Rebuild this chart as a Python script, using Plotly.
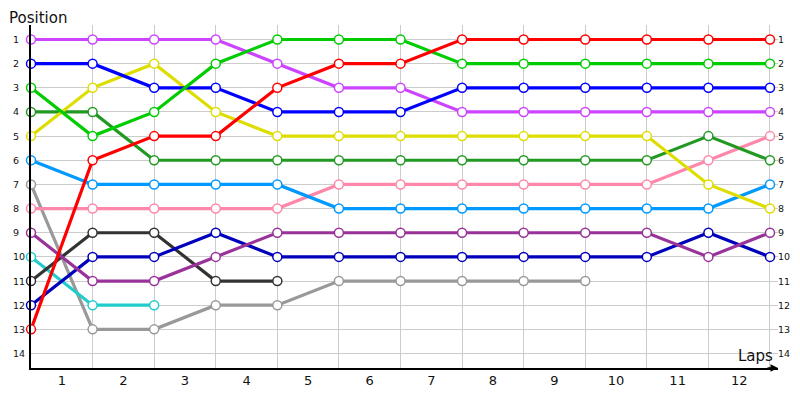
import plotly.graph_objects as go

# Lap chart: position of each car at the end of every lap (lap 0 = grid)
laps = list(range(0, 13))
lap_labels = [str(i) for i in range(1, 13)]
positions = list(range(1, 15))

red = [13, 6, 5, 5, 3, 2, 2, 1, 1, 1, 1, 1, 1]
green = [3, 5, 4, 2, 1, 1, 1, 2, 2, 2, 2, 2, 2]
blue = [2, 2, 3, 3, 4, 4, 4, 3, 3, 3, 3, 3, 3]
violet = [1, 1, 1, 1, 2, 3, 3, 4, 4, 4, 4, 4, 4]
yellow = [5, 3, 2, 4, 5, 5, 5, 5, 5, 5, 5, 7, 8]
dark_green = [4, 4, 6, 6, 6, 6, 6, 6, 6, 6, 6, 5, 6]
light_blue = [6, 7, 7, 7, 7, 8, 8, 8, 8, 8, 8, 8, 7]
pink = [8, 8, 8, 8, 8, 7, 7, 7, 7, 7, 7, 6, 5]
purple = [9, 11, 11, 10, 9, 9, 9, 9, 9, 9, 9, 10, 9]
navy = [12, 10, 10, 9, 10, 10, 10, 10, 10, 10, 10, 9, 10]
charcoal = [11, 9, 9, 11, 11]
cyan = [10, 12, 12]
gray = [7, 13, 13, 12, 12, 11, 11, 11, 11, 11]

series = [
    (gray, '#999999'),
    (cyan, '#22cccc'),
    (charcoal, '#333333'),
    (navy, '#0000bb'),
    (purple, '#993399'),
    (pink, '#ff88aa'),
    (light_blue, '#0099ff'),
    (dark_green, '#229922'),
    (yellow, '#dddd00'),
    (violet, '#cc44ff'),
    (blue, '#0000ff'),
    (green, '#00cc00'),
    (red, '#ff0000'),
]

fig = go.Figure()
for vals, col in series:
    fig.add_trace(go.Scatter(
        x=laps[:len(vals)], y=vals, mode='lines+markers',
        line=dict(color=col, width=3.2),
        marker=dict(size=9, color='white', line=dict(color=col, width=1.5)),
        cliponaxis=False, showlegend=False, hoverinfo='skip'
    ))

font = dict(family='DejaVu Sans', size=9.5, color='#111111')
annotations = []
for p in positions:
    annotations.append(dict(xref='paper', yref='y', x=0, y=p, xshift=-20,
                            xanchor='left', text=str(p), showarrow=False, font=font))
    annotations.append(dict(xref='x', yref='y', x=laps[-1], y=p, xshift=6,
                            xanchor='left', text=str(p), showarrow=False, font=font))

annotations += [
    dict(xref='paper', yref='paper', x=0, y=1, xshift=-23, yshift=17,
         xanchor='left', yanchor='top', text='Position', showarrow=False,
         borderpad=0, font=dict(family='DejaVu Sans', size=15, color='#111111')),
    dict(xref='paper', yref='paper', x=1, y=0, xshift=-3, yshift=1,
         xanchor='right', yanchor='bottom', text='Laps', showarrow=False,
         font=dict(family='DejaVu Sans', size=15, color='#111111')),
    dict(xref='paper', yref='paper', x=1, y=0, ax=-12, ay=0,
         axref='pixel', ayref='pixel', text='', showarrow=True,
         arrowhead=2, arrowsize=1, arrowwidth=1.5, arrowcolor='black'),
]

# the page adds an 8px body margin, so the figure is 8px smaller than the window
fig.update_layout(
    width=792, height=392,
    margin=dict(l=23, r=22, t=17, b=25),
    plot_bgcolor='white', paper_bgcolor='white',
    annotations=annotations,
    shapes=[dict(type='circle', xref='paper', yref='paper', x0=0, y0=1, x1=0, y1=1,
                 xsizemode='pixel', ysizemode='pixel', xanchor=0, yanchor=1,
                 fillcolor='black', line=dict(color='black'))],
)
fig.update_xaxes(
    range=[0, 12.13], tickvals=[i + 0.5 for i in range(12)], ticktext=lap_labels,
    showgrid=False, zeroline=False, showline=True, linecolor='black', linewidth=1.5,
    ticks='', tickfont=dict(family='DejaVu Sans', size=13, color='#111111'),
    minor=dict(tick0=0, dtick=1, showgrid=True, gridcolor='#cccccc', gridwidth=1),
)
fig.update_yaxes(
    range=[14.6, 0.4], tickvals=positions, showticklabels=False,
    showgrid=True, gridcolor='#cccccc', gridwidth=1, zeroline=False,
    showline=True, linecolor='black', linewidth=1.5, ticks='',
)

fig.write_html("out.html")
